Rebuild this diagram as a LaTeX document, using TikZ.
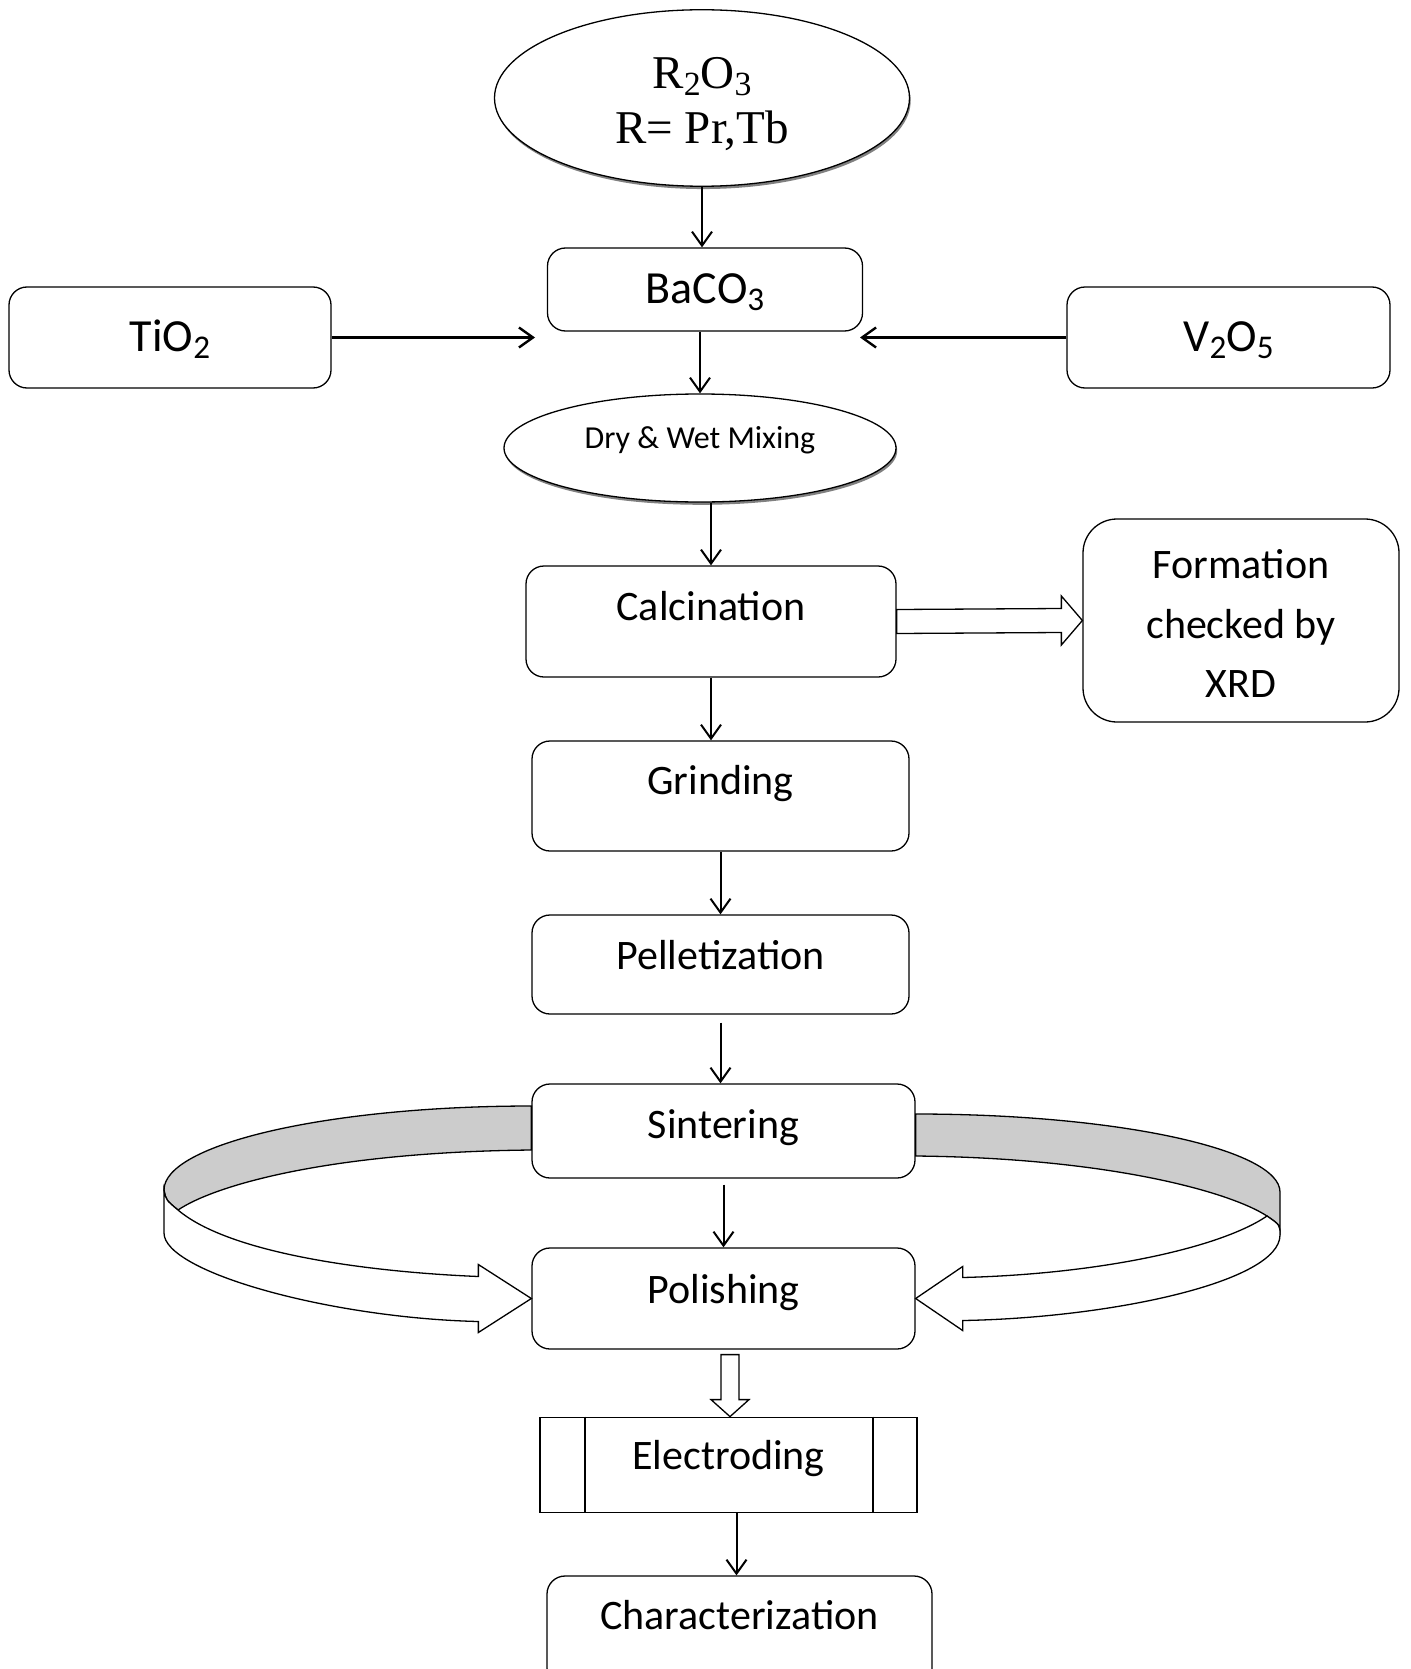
\documentclass[tikz,border=0pt]{standalone}
\usepackage{fontspec}
\setmainfont{Carlito}
\newfontfamily\serifR{Liberation Serif}
\usepackage{graphicx}
\usetikzlibrary{arrows.meta,positioning,calc,shapes.geometric,shadows}
\newcommand{\chsub}[1]{\raisebox{-0.15em}{\scalebox{0.72}{#1}}}
\newcommand{\padtop}[2]{\raisebox{0pt}[\dimexpr\height+#1\relax][\depth]{\begin{tabular}{@{}c@{}}#2\end{tabular}}}

\begin{document}
\begin{tikzpicture}[
  x=0.5pt, y=-0.5pt,
  font=\fontsize{21}{29.75}\selectfont,
  box/.style={rectangle, rounded corners=9pt, draw, line width=0.65pt, fill=white, align=center, inner sep=0pt},
  chembox/.style={box, font=\fontsize{23}{27}\selectfont, text height=16pt, text depth=2pt},
  oval/.style={ellipse, draw, line width=0.65pt, fill=white, inner sep=0pt, align=center,
    drop shadow={shadow xshift=0.6pt, shadow yshift=-1.4pt, fill=black!55, opacity=0.9}},
  hitext/.style={text height=14pt, text depth=15.5pt},
  midtext/.style={text height=14pt, text depth=9.5pt},
  procbox/.style={rectangle, draw, line width=0.9pt, fill=white, align=center, inner sep=0pt},
  arrow/.style={-{Straight Barb[length=7pt,width=10pt]}, line width=1pt},
  hollow/.style={draw, line width=0.65pt, fill=white, line join=miter},
  ribbonback/.style={draw, line width=0.65pt, fill=black!20},
  ribbonfront/.style={draw, line width=0.65pt, fill=white},
]
\clip (0,0) rectangle (1410,1669);
\fill[white] (0,0) rectangle (1410,1669);

% raw materials
\node[oval, minimum width=207.5pt, minimum height=86pt, font=\serifR\fontsize{23.5}{27.7}\selectfont] (r2o3) at (702,98) {\padtop{7pt}{R\chsub{2}O\chsub{3}\\R= Pr,Tb}};
\node[chembox, minimum width=157.5pt, minimum height=41.5pt] (baco3) at (705,289.5) {BaCO\chsub{3}};
\node[chembox, minimum width=161pt, minimum height=50.5pt] (tio2) at (170,337.5) {TiO\chsub{2}};
\node[chembox, minimum width=161.5pt, minimum height=50.5pt] (v2o5) at (1228.5,337.5) {V\chsub{2}O\chsub{5}};
\coordinate (tio2in) at (535,337.5);
\coordinate (v2o5in) at (860,337.5);

% processing steps
\node[oval, minimum width=196pt, minimum height=54pt, font=\fontsize{16}{19}\selectfont, text height=12pt, text depth=12pt] (mixing) at (700,448) {Dry \& Wet Mixing};
\node[box, hitext, minimum width=185pt, minimum height=55.5pt] (calc) at (711,621.5) {Calcination};
\node[box, rounded corners=17pt, minimum width=158pt, minimum height=101.5pt] (xrd) at (1241,620.5) {\padtop{6pt}{Formation\\checked by\\XRD}};
\node[box, hitext, minimum width=188.5pt, minimum height=55pt] (grind) at (720.5,796) {Grinding};
\node[box, midtext, minimum width=188.5pt, minimum height=49.5pt] (pellet) at (720.5,964.5) {Pelletization};
\node[box, midtext, text depth=7pt, minimum width=191.5pt, minimum height=47pt] (sinter) at (723.5,1131) {Sintering};
\node[box, midtext, minimum width=191.5pt, minimum height=50.5pt] (polish) at (723.5,1298.5) {Polishing};
\node[procbox, midtext, minimum width=188.5pt, minimum height=47.5pt] (elec) at (728.5,1465) {Electroding};
\draw[line width=0.9pt] ([xshift=23pt]elec.north west) -- ([xshift=23pt]elec.south west);
\draw[line width=0.9pt] ([xshift=-22.5pt]elec.north east) -- ([xshift=-22.5pt]elec.south east);
\node[box, hitext, minimum width=192.5pt, minimum height=55pt] (charact) at (739.5,1631) {Characterization};

% connectors
\draw[arrow] (r2o3.south) -- (r2o3.south |- baco3.north);
\draw[arrow, line width=1.2pt] (tio2.east) -- (tio2in);
\draw[arrow, line width=1.2pt] (v2o5.west) -- (v2o5in);
\draw[arrow] (baco3.south -| mixing.north) -- (mixing.north);
\draw[arrow] (calc.north |- mixing.south) -- (calc.north);
\draw[arrow] (calc.south) -- (calc.south |- grind.north);
\draw[arrow] (grind.south) -- (grind.south |- pellet.north);
\draw[arrow, shorten <=4pt] (pellet.south) -- (pellet.south |- sinter.north);
\draw[arrow, shorten <=3pt] (sinter.south) -- (sinter.south |- polish.north);
\draw[arrow] ([xshift=-1.5pt]charact.north |- elec.south) -- ([xshift=-1.5pt]charact.north);

% hollow arrows
\draw[hollow] (xrd.west) -- ++(-10.5pt,12.25pt) -- ++(0,-6.25pt) -- ([yshift=6pt]calc.east)
  -- ([yshift=-6pt]calc.east) -- ([xshift=-10.5pt,yshift=-6pt]xrd.west) -- ++(0,-6.25pt) -- cycle;
\draw[hollow] ([xshift=0.75pt]elec.north) -- ++(9.5pt,8.5pt) -- ++(-5pt,0) -- ++(0,22.5pt)
  -- ++(-9pt,0) -- ++(0,-22.5pt) -- ++(-5pt,0) -- cycle;

% curved ribbon arrows sintering -> polishing
\draw[ribbonback] ($(sinter.west)+(0,-25)$) .. controls (329,1106) and (164,1144) .. (164,1190)
  .. controls (166,1200) .. (178,1210) .. controls (215,1185) and (330,1152) .. ($(sinter.west)+(0,19)$) -- cycle;
\draw[ribbonfront] (164,1190) -- (164,1233) .. controls (164,1272) and (330,1318) .. ($(polish.west)+(-53,23)$)
  -- ++(0,11) -- (polish.west) -- ($(polish.west)+(-53,-34)$) -- ++(0,12)
  .. controls (370,1272) and (230,1254) .. (178,1210) .. controls (166,1200) .. (164,1190) -- cycle;
\draw[ribbonback] ($(sinter.east)+(0,-17)$) .. controls (1120,1114) and (1280,1150) .. (1280,1192)
  -- (1280,1235) .. controls (1280,1225) .. (1267,1216) .. controls (1230,1192) and (1110,1158) .. ($(sinter.east)+(0,25)$) -- cycle;
\draw[ribbonfront] (1267,1216) .. controls (1280,1225) .. (1280,1235) .. controls (1280,1282) and (1110,1318) .. ($(polish.east)+(47,22)$)
  -- ++(0,10) -- (polish.east) -- ($(polish.east)+(47,-32)$) -- ++(0,11)
  .. controls (1100,1274) and (1220,1248) .. (1267,1216) -- cycle;
\end{tikzpicture}
\end{document}
